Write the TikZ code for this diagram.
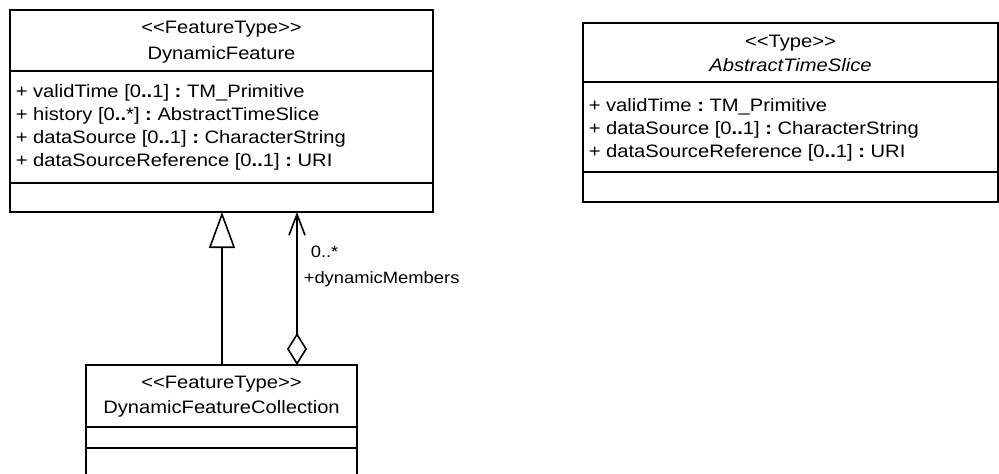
\documentclass[tikz,border=0pt]{standalone}
\usepackage{fontspec}
\setmainfont{Liberation Sans}[FakeStretch=1.12]
\usepackage{tikz}
\usetikzlibrary{positioning}
\usetikzlibrary{arrows.meta}

\newcommand{\stereotype}[1]{<\kern0pt<#1>\kern0pt>}
\newcommand{\rng}{\textbf{..}}
\newcommand{\sep}{\textbf{:}}

\tikzset{
    part/.style={draw, rectangle, inner sep=0pt, outer sep=0pt},
    classtext/.style={anchor=base, inner sep=0pt, font=\fontsize{18}{21}\selectfont},
    attrtext/.style={anchor=base west, inner sep=0pt, font=\fontsize{18}{21}\selectfont},
    roletext/.style={anchor=base west, inner sep=0pt, font=\fontsize{16.4}{19}\selectfont},
}

\begin{document}
\begin{tikzpicture}[x=1pt, y=-1pt, line width=1.6pt]
    \useasboundingbox (0,0) rectangle (999,474);
    \clip (0,0) rectangle (999,474);

    \node[part, minimum width=423pt, minimum height=61pt] (df) at (221.5,40.5) {};
    \node[part, minimum width=423pt, minimum height=112pt, below=0pt of df] (dfattr) {};
    \node[part, minimum width=423pt, minimum height=29pt, below=0pt of dfattr] (dfops) {};

    \node[classtext] (dfst) at (221.5,33) {\stereotype{FeatureType}};
    \node[classtext] (dfname) at (221.5,59) {DynamicFeature};
    \node[attrtext] (dfa) at (15,97) {+ validTime [0\rng1] \sep\ TM\_Primitive};
    \node[attrtext] (dfb) at (15,120) {+ history [0\rng*] \sep\ AbstractTimeSlice};
    \node[attrtext] (dfc) at (15,143) {+ dataSource [0\rng1] \sep\ CharacterString};
    \node[attrtext] (dfd) at (15,166) {+ dataSourceReference [0\rng1] \sep\ URI};

    \node[part, minimum width=415pt, minimum height=59pt] (ts) at (790.5,52.5) {};
    \node[part, minimum width=415pt, minimum height=90pt, below=0pt of ts] (tsattr) {};
    \node[part, minimum width=415pt, minimum height=30pt, below=0pt of tsattr] (tsops) {};

    \node[classtext] (tsst) at (790.5,47) {\stereotype{Type}};
    \node[classtext, font=\fontsize{18}{21}\selectfont\itshape] (tsname) at (790.5,71) {AbstractTimeSlice};
    \node[attrtext] (tsa) at (588,111) {+ validTime \sep\ TM\_Primitive};
    \node[attrtext] (tsb) at (588,134) {+ dataSource [0\rng1] \sep\ CharacterString};
    \node[attrtext] (tsc) at (588,157) {+ dataSourceReference [0\rng1] \sep\ URI};

    \node[part, minimum width=271pt, minimum height=62pt] (coll) at (221.5,396) {};
    \node[part, minimum width=271pt, minimum height=21pt, below=0pt of coll] (collattr) {};
    \node[part, minimum width=271pt, minimum height=40pt, below=0pt of collattr] (collops) {};

    \node[classtext] (collst) at (221.5,388) {\stereotype{FeatureType}};
    \node[classtext] (collname) at (221.5,413) {DynamicFeatureCollection};

    \draw[-{Triangle[open, length=36pt, width=26pt]}] ([xshift=0.5pt]coll.north) -- ([xshift=0.5pt]dfops.south);
    \draw[{Diamond[open, length=32pt, width=20pt]}-{Straight Barb[length=21pt, width=16pt]}]
        ([xshift=75.5pt]coll.north) -- ([xshift=75.5pt]dfops.south);

    \node[roletext] (mult) at (310,257) {0..*};
    \node[roletext] (role) at (303,283) {+dynamicMembers};
\end{tikzpicture}
\end{document}
